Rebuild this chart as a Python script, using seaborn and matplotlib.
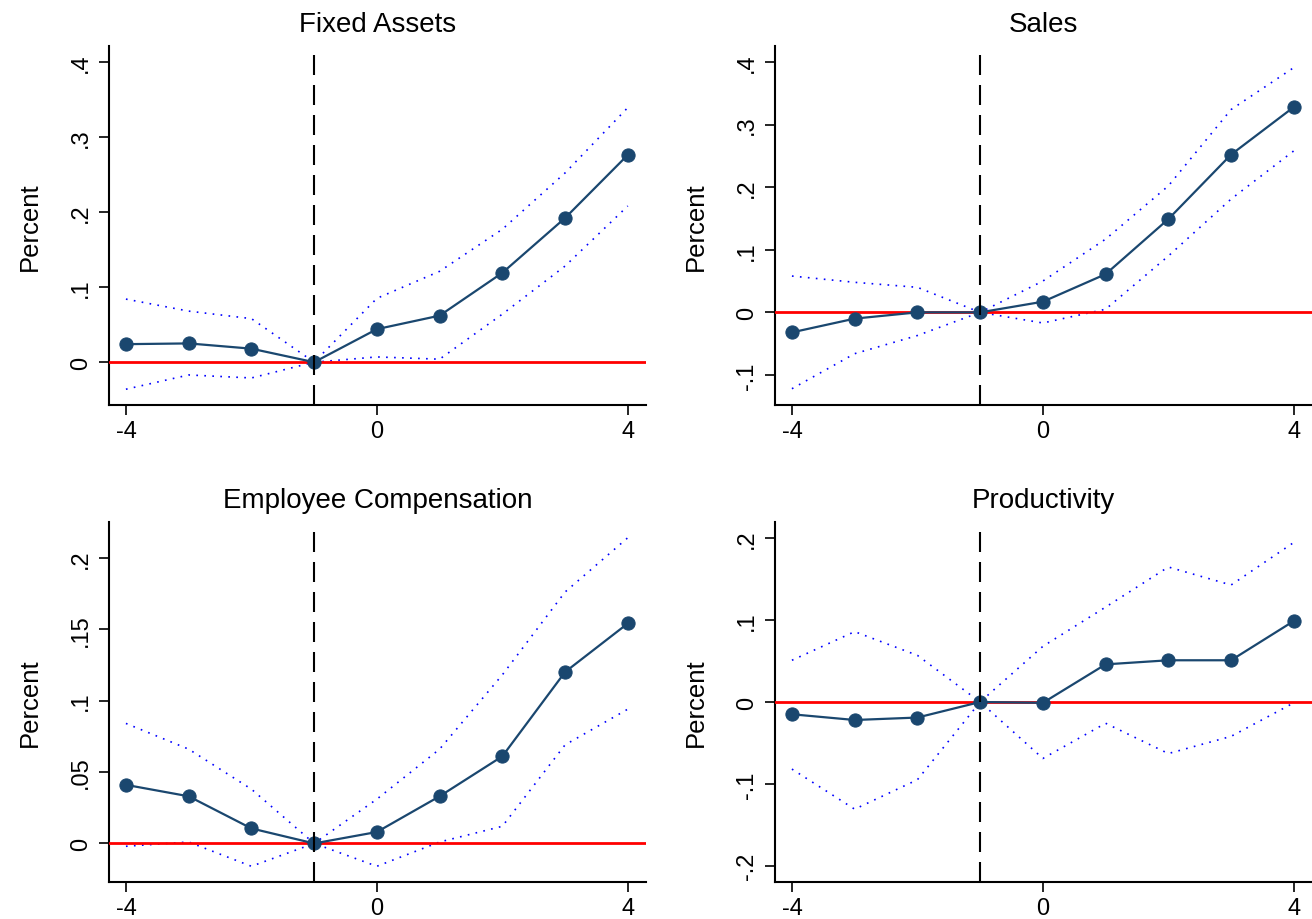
"""Event-study style coefficient plots for four outcomes (2x2 panel)."""

import matplotlib

matplotlib.use("Agg")

import pandas as pd
import seaborn as sns
from matplotlib import pyplot as plt
from matplotlib.ticker import FuncFormatter

# event time
periods = [-4, -3, -2, -1, 0, 1, 2, 3, 4]

# Fixed Assets
fixed_coef = [0.024, 0.025, 0.018, 0.0, 0.044, 0.062, 0.119, 0.192, 0.276]
fixed_upper = [0.084, 0.068, 0.058, 0.0, 0.085, 0.121, 0.177, 0.252, 0.339]
fixed_lower = [-0.036, -0.017, -0.021, 0.0, 0.007, 0.004, 0.064, 0.128, 0.208]

# Sales
sales_coef = [-0.032, -0.010, 0.0, 0.0, 0.017, 0.061, 0.149, 0.252, 0.328]
sales_upper = [0.058, 0.048, 0.040, 0.0, 0.050, 0.117, 0.202, 0.324, 0.391]
sales_lower = [-0.122, -0.066, -0.037, 0.0, -0.017, 0.005, 0.090, 0.181, 0.258]

# Employee Compensation
comp_coef = [0.041, 0.033, 0.0105, 0.0, 0.008, 0.033, 0.061, 0.120, 0.154]
comp_upper = [0.084, 0.066, 0.038, 0.0, 0.031, 0.066, 0.118, 0.176, 0.214]
comp_lower = [-0.002, 0.001, -0.016, 0.0, -0.016, 0.001, 0.012, 0.069, 0.094]

# Productivity
prod_coef = [-0.015, -0.022, -0.019, 0.0, -0.001, 0.046, 0.051, 0.051, 0.099]
prod_upper = [0.051, 0.086, 0.057, 0.0, 0.068, 0.116, 0.165, 0.143, 0.195]
prod_lower = [-0.082, -0.131, -0.095, 0.0, -0.069, -0.026, -0.063, -0.042, -0.001]

titles = ["Fixed Assets", "Sales", "Employee Compensation", "Productivity"]
y_ticks = [
    [0, 0.1, 0.2, 0.3, 0.4],
    [-0.1, 0, 0.1, 0.2, 0.3, 0.4],
    [0, 0.05, 0.1, 0.15, 0.2],
    [-0.2, -0.1, 0, 0.1, 0.2],
]
y_limits = [(-0.057, 0.421), (-0.148, 0.4255), (-0.027, 0.225), (-0.22, 0.22)]

panels = [
    (fixed_coef, fixed_upper, fixed_lower),
    (sales_coef, sales_upper, sales_lower),
    (comp_coef, comp_upper, comp_lower),
    (prod_coef, prod_upper, prod_lower),
]

# axes boxes in pixels: left, right, top, bottom
W, H = 1312, 920
boxes = [
    (109, 646, 47, 406),
    (775, 1312, 47, 406),
    (109, 646, 523, 883),
    (775, 1312, 523, 883),
]

NAVY = "#1a476f"

sns.set_theme(style="white")
plt.rcParams["font.family"] = ["Liberation Sans", "DejaVu Sans"]
plt.rcParams["axes.unicode_minus"] = False
for key in ["text.color", "axes.labelcolor", "xtick.color", "ytick.color"]:
    plt.rcParams[key] = "black"


def short_label(value, _pos):
    if abs(value) < 1e-9:
        return "0"
    return f"{value:g}".replace("0.", ".")


fig = plt.figure(figsize=(W / 100, H / 100), dpi=100)

for i, (coef, upper, lower) in enumerate(panels):
    left, right, top, bottom = boxes[i]
    ax = fig.add_axes([left / W, 1 - bottom / H, (right - left) / W, (bottom - top) / H])

    frame = pd.DataFrame({"t": periods, "coef": coef, "upper": upper, "lower": lower})

    for col in ["upper", "lower"]:
        sns.lineplot(
            data=frame, x="t", y=col, ax=ax, color="blue",
            linewidth=1.2, linestyle=(0, (1, 3.8)), zorder=2,
        )
    ax.axhline(0, color="red", linewidth=2.0, zorder=3)
    sns.lineplot(
        data=frame, x="t", y="coef", ax=ax, color=NAVY, linewidth=1.6,
        marker="o", markersize=9.5, markeredgecolor=NAVY, zorder=4,
    )
    ax.axvline(-1, color="black", linewidth=1.5, linestyle=(0, (9.6, 4.8)), zorder=5)

    ax.set_xlim(-4.27, 4.29)
    ax.set_ylim(*y_limits[i])
    ax.set_xticks([-4, 0, 4])
    ax.set_yticks(y_ticks[i])
    ax.yaxis.set_major_formatter(FuncFormatter(short_label))
    ax.set_xlabel("")
    ax.set_ylabel("Percent", fontsize=18.5, labelpad=20)
    ax.set_title(titles[i], fontsize=20, pad=11)

    ax.tick_params(axis="both", direction="out", length=7.5, width=1.2,
                   color="black", labelsize=17, bottom=True, left=True)
    ax.tick_params(axis="x", pad=3)
    ax.tick_params(axis="y", pad=5)
    for label in ax.get_yticklabels():
        label.set_rotation(90)
        label.set_va("center")

    for side in ["top", "right"]:
        ax.spines[side].set_visible(False)
    for side in ["left", "bottom"]:
        ax.spines[side].set_color("black")
        ax.spines[side].set_linewidth(1.5)

fig.savefig("out.png", dpi=100, facecolor="white")
